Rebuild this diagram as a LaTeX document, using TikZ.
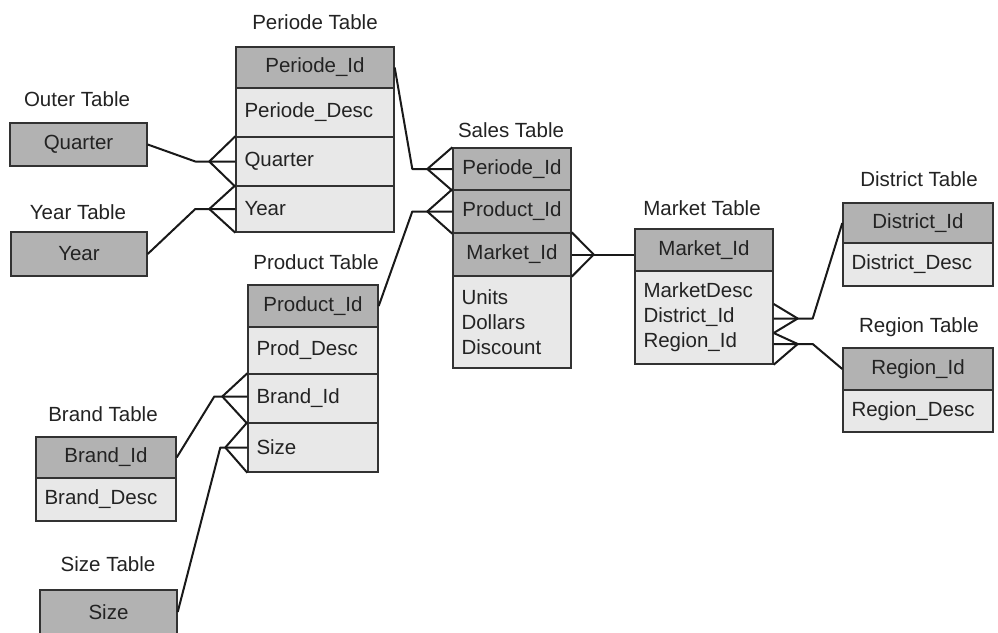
\documentclass[tikz,border=0pt]{standalone}
\usepackage{fontspec}
\setmainfont{Liberation Sans}
\usetikzlibrary{calc}
\definecolor{keyfill}{RGB}{178,178,178}
\definecolor{rowfill}{RGB}{232,232,232}
\definecolor{edge}{RGB}{50,50,50}
\definecolor{txt}{RGB}{35,35,35}
\tikzset{
  base/.style={draw=edge, line width=1.4pt, inner ysep=0pt, text=txt,
    font=\fontsize{20.5}{25}\selectfont},
  keycell/.style={base, fill=keyfill, align=center},
  cell/.style={base, fill=rowfill, align=left, inner xsep=8.5pt},
  ttl/.style={text=txt, font=\fontsize{20.5}{25}\selectfont, inner sep=0pt},
  conn/.style={draw=black!90, line width=2pt, line join=round}
}
\begin{document}
\begin{tikzpicture}[x=1pt,y=-1pt]
\useasboundingbox (0,0) rectangle (998,632);
\fill[white] (0,0) rectangle (998,632);

% ---------- titles
\node[ttl] (tper) at (315,22) {Periode Table};
\node[ttl] (tout) at (77,99) {Outer Table};
\node[ttl] (tyr) at (78,212) {Year Table};
\node[ttl] (tprod) at (316,262) {Product Table};
\node[ttl] (tsal) at (511,130) {Sales Table};
\node[ttl] (tmkt) at (702,208) {Market Table};
\node[ttl] (tdis) at (919,179) {District Table};
\node[ttl] (treg) at (919,327) {Region Table};
\node[ttl] (tbr) at (103,414) {Brand Table};
\node[ttl] (tsz) at (108,564) {Size Table};

% ---------- Periode table
\node[keycell, minimum width=158pt, minimum height=41pt] (pid) at (315,67.5) {Periode\_Id};
\node[cell, text width=141pt, minimum height=49pt] (pdesc) at (315,112.5) {Periode\_Desc};
\node[cell, text width=141pt, minimum height=49pt] (pq) at (315,161.5) {Quarter};
\node[cell, text width=141pt, minimum height=46pt] (py) at (315,209) {Year};

% ---------- Outer / Year
\node[keycell, minimum width=137pt, minimum height=43pt] (outer) at (78.5,144.5) {Quarter};
\node[keycell, minimum width=136pt, minimum height=44pt] (yearb) at (79,254) {Year};

% ---------- Product table
\node[keycell, minimum width=130pt, minimum height=42pt] (prid) at (313,306) {Product\_Id};
\node[cell, text width=113pt, minimum height=47pt] (prdesc) at (313,350.5) {Prod\_Desc};
\node[cell, text width=113pt, minimum height=49pt] (pb) at (313,398.5) {Brand\_Id};
\node[cell, text width=113pt, minimum height=49pt] (ps) at (313,447.5) {Size};

% ---------- Brand / Size
\node[keycell, minimum width=140pt, minimum height=41pt] (bkey) at (106,457.5) {Brand\_Id};
\node[cell, text width=123pt, minimum height=43pt] (bdesc) at (106,499.5) {Brand\_Desc};
\node[keycell, minimum width=137pt, minimum height=44pt] (skey) at (108.5,612) {Size};

% ---------- Sales table
\node[keycell, minimum width=118pt, minimum height=42pt] (spid) at (512,169) {Periode\_Id};
\node[keycell, minimum width=118pt, minimum height=43pt] (spr) at (512,211.5) {Product\_Id};
\node[keycell, minimum width=118pt, minimum height=43pt] (smk) at (512,254.5) {Market\_Id};
\node[cell, text width=101pt, minimum height=92pt] (sbody) at (512,322) {Units\\Dollars\\Discount};

% ---------- Market table
\node[keycell, minimum width=138pt, minimum height=42pt] (mkid) at (704,250) {Market\_Id};
\node[cell, text width=121pt, minimum height=93pt] (mbody) at (704,317.5) {MarketDesc\\District\_Id\\Region\_Id};

% ---------- District / Region
\node[keycell, minimum width=150pt, minimum height=40pt] (dkey) at (918,223) {District\_Id};
\node[cell, text width=133pt, minimum height=43pt] (ddesc) at (918,264.5) {District\_Desc};
\node[keycell, minimum width=150pt, minimum height=42pt] (rkey) at (918,369) {Region\_Id};
\node[cell, text width=133pt, minimum height=42pt] (rdesc) at (918,411) {Region\_Desc};

% ---------- connectors
% Outer -> Periode.Quarter
\coordinate (oqb) at ($(pq.west)+(-40,0)$);
\coordinate (oqf) at ($(pq.west)+(-26,0)$);
\draw[conn] (outer.east) -- (oqb) -- (pq.west);
\draw[conn] (pq.north west) -- (oqf) -- (pq.south west);

% Year -> Periode.Year
\coordinate (yyb) at ($(py.west)+(-40,0)$);
\coordinate (yyf) at ($(py.west)+(-26,0)$);
\draw[conn] (yearb.east) -- (yyb) -- (py.west);
\draw[conn] (py.north west) -- (yyf) -- (py.south west);

% Periode -> Sales.Periode_Id
\coordinate (spb) at ($(spid.west)+(-40,0)$);
\coordinate (spf) at ($(spid.west)+(-25,0)$);
\draw[conn] (pid.east) -- (spb) -- (spid.west);
\draw[conn] (spid.north west) -- (spf) -- (spid.south west);

% Product -> Sales.Product_Id
\coordinate (srb) at ($(spr.west)+(-40,0)$);
\coordinate (srf) at ($(spr.west)+(-25,0)$);
\draw[conn] (prid.east) -- (srb) -- (spr.west);
\draw[conn] (spr.north west) -- (srf) -- (spr.south west);

% Sales.Market_Id -> Market
\coordinate (smf) at ($(smk.east)+(22,0)$);
\draw[conn] (smk.east) -- (mkid.west |- smk.east);
\draw[conn] (smk.north east) -- (smf) -- (smk.south east);

% Brand -> Product.Brand_Id
\coordinate (bbb) at ($(pb.west)+(-33,-2)$);
\coordinate (bbf) at ($(pb.west)+(-25,-2)$);
\draw[conn] (bkey.east) -- (bbb) -- ($(pb.west)+(0,-2)$);
\draw[conn] (pb.north west) -- (bbf) -- (pb.south west);

% Size -> Product.Size
\coordinate (ssb) at ($(ps.west)+(-27,0)$);
\coordinate (ssf) at ($(ps.west)+(-22,0)$);
\draw[conn] (skey.east) -- (ssb) -- (ps.west);
\draw[conn] (ps.north west) -- (ssf) -- (ps.south west);

% Market -> District
\coordinate (dt1) at ($(mbody.east)+(0,-13.5)$);
\coordinate (dt2) at ($(mbody.east)+(0,1)$);
\coordinate (dt3) at ($(mbody.east)+(0,15.5)$);
\coordinate (dfk) at ($(mbody.east)+(24,1)$);
\coordinate (dbn) at ($(mbody.east)+(39,1)$);
\draw[conn] (dt1) -- (dfk) -- (dt3);
\draw[conn] (dt2) -- (dbn) -- (dkey.west);

% Market -> Region
\coordinate (rt1) at ($(mbody.east)+(0,15.5)$);
\coordinate (rt2) at ($(mbody.east)+(0,26.5)$);
\coordinate (rfk) at ($(mbody.east)+(24,26.5)$);
\coordinate (rbn) at ($(mbody.east)+(39,26.5)$);
\draw[conn] (rt1) -- (rfk) -- (mbody.south east);
\draw[conn] (rt2) -- (rbn) -- (rkey.west);
\end{tikzpicture}
\end{document}
